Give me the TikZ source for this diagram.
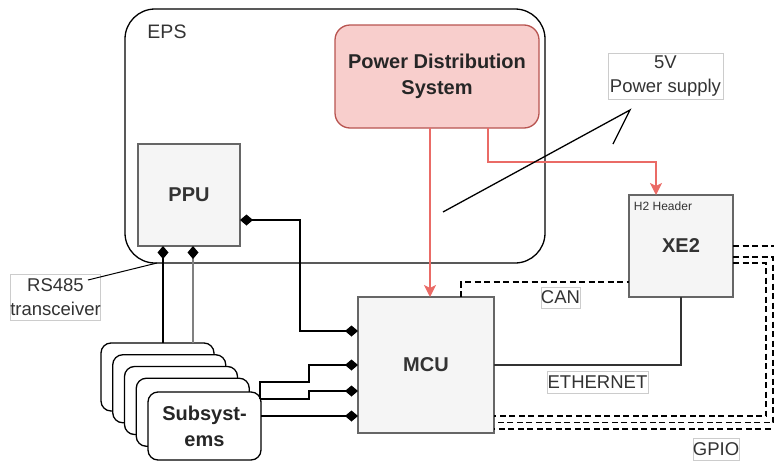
\documentclass[tikz,border=0pt]{standalone}
\usepackage{fontspec}
\setmainfont{Liberation Sans}
\usetikzlibrary{arrows.meta,calc}
\definecolor{gfill}{HTML}{F5F5F5}
\definecolor{gline}{HTML}{666666}
\definecolor{gtext}{HTML}{333333}
\definecolor{rfill}{HTML}{F8CECC}
\definecolor{rline}{HTML}{B85450}
\definecolor{rarrow}{HTML}{EA6B66}
\definecolor{lblline}{HTML}{CCCCCC}
\tikzset{
  base/.style={inner sep=0pt, outer sep=0pt, anchor=north west},
  graybox/.style={base, draw=gline, fill=gfill, text=gtext, line width=1.3pt,
    font=\bfseries\fontsize{20}{26}\selectfont, align=center},
  lblbox/.style={inner sep=0pt, outer sep=0pt, draw=lblline, line width=0.6pt, fill=white,
    text=gtext, font=\fontsize{18.5}{23.5}\selectfont, align=center},
  subbox/.style={base, draw=black, fill=white, line width=1.3pt, rounded corners=10pt,
    minimum width=113pt, minimum height=68pt},
  conn/.style={line width=1.3pt, draw=black},
  dconn/.style={line width=1.3pt, draw=black, dash pattern=on 6pt off 3.5pt},
  redconn/.style={line width=1.3pt, draw=rarrow, -{Stealth[length=12pt,width=12pt,inset=3pt]}},
}
\begin{document}
\begin{tikzpicture}[x=1pt,y=-1pt]
\useasboundingbox (0,0) rectangle (774,461);

% EPS container
\node[base, draw=black, line width=1.3pt, rounded corners=30pt,
      minimum width=420pt, minimum height=254pt] (eps) at (125,9) {};
\node[text=gtext, font=\fontsize{19.5}{24}\selectfont] (epslbl) at (167,32) {EPS};

% Power distribution system
\node[base, draw=rline, fill=rfill, line width=1.3pt, rounded corners=15pt,
      minimum width=204pt, minimum height=103pt, align=center,
      font=\bfseries\fontsize{20}{26}\selectfont, text=black!85] (pds) at (335,25)
      {Power Distribution\\System};

% PPU
\node[graybox, minimum width=102pt, minimum height=102pt] (ppu) at (138,144) {PPU};

% MCU
\node[graybox, minimum width=136pt, minimum height=136pt] (mcu) at (358,297) {MCU};

% XE2
\node[graybox, minimum width=104pt, minimum height=102pt] (xe2) at (629,195) {XE2};
\node[text=gtext, font=\fontsize{12}{14}\selectfont] (h2) at (663,206) {H2 Header};

% Subsystems stack
\node[subbox] (sub1) at (101,343) {};
\node[subbox] (sub2) at (112.75,354.75) {};
\node[subbox] (sub3) at (124.5,366.5) {};
\node[subbox] (sub4) at (136.25,378.25) {};
\node[subbox, align=center, font=\bfseries\fontsize{20}{26}\selectfont, text=black!85] (sub5) at (148,392) {Subsyst-\\ems};

% labels
\node[lblbox, minimum width=115pt, minimum height=46pt] (ps) at (665.5,76) {5V\\Power supply};
\node[lblbox, minimum width=89pt, minimum height=46pt] (rs) at (55.5,297) {RS485\\transceiver};
\node[lblbox, minimum width=39pt, minimum height=21pt] (can) at (560.5,297.5) {CAN};
\node[lblbox, minimum width=101pt, minimum height=22pt] (eth) at (597.5,382) {ETHERNET};
\node[lblbox, minimum width=46pt, minimum height=22pt] (gpio) at (716,449) {GPIO};

% red power connectors
\draw[redconn] (pds.south -| 430,0) -- (mcu.north -| 430,0);
\draw[redconn] (pds.south -| 488,0) |- (656,162) -- (xe2.north -| 656,0);

% 5V power supply pointer
\coordinate (pstip) at (630,110);
\coordinate (psstart) at (443,212);
\coordinate (psbarb) at (613,144);
\draw[conn] (psstart) -- (pstip) -- (psbarb);

% RS485 pointer
\draw[conn, line width=1pt] (88,280) -- ($(eps.south west)+(32,0)$);

% PPU connectors
\draw[conn, {Diamond[length=13pt,width=11pt]}-{Diamond[length=13pt,width=11pt]}]
  (ppu.east |- 0,220) -- (300,220) -- (300,331) -- (mcu.west |- 0,331);
\draw[conn, {Diamond[length=13pt,width=11pt]}-] (ppu.south -| 163,0) -- (sub1.north -| 163,0);
\draw[line width=1.3pt, draw=gray, {Diamond[length=13pt,width=11pt,color=black,fill=black]}-] (ppu.south -| 193,0) -- (sub1.north -| 193,0);

% Subsystems to MCU
\draw[conn, -{Diamond[length=13pt,width=11pt]}] (260,399) -- (260,382) -- (309,382) -- (309,365) -- (mcu.west |- 0,365);
\draw[conn, -{Diamond[length=13pt,width=11pt]}] (260,399) -- (309,399) -- (309,391) -- (mcu.west |- 0,391);
\draw[conn, -{Diamond[length=13pt,width=11pt]}] (sub5.east |- 0,416) -- (mcu.west |- 0,416);

% CAN
\draw[dconn] (mcu.north -| 461,0) |- (xe2.west |- 0,282);

% ETHERNET
\draw[conn, draw=gtext] (mcu.east |- 0,365) -| (xe2.south -| 681,0);

% GPIO
\draw[dconn] (xe2.east |- 0,246) -- (779,246) -- (779,429) -- (mcu.east |- 0,429);
\draw[dconn] (xe2.east |- 0,257) -- (773,257) -- (773,422.5) -- (mcu.east |- 0,422.5);
\draw[dconn] (xe2.east |- 0,263) -- (766,263) -- (766,416) -- (mcu.east |- 0,416);
\end{tikzpicture}
\end{document}
